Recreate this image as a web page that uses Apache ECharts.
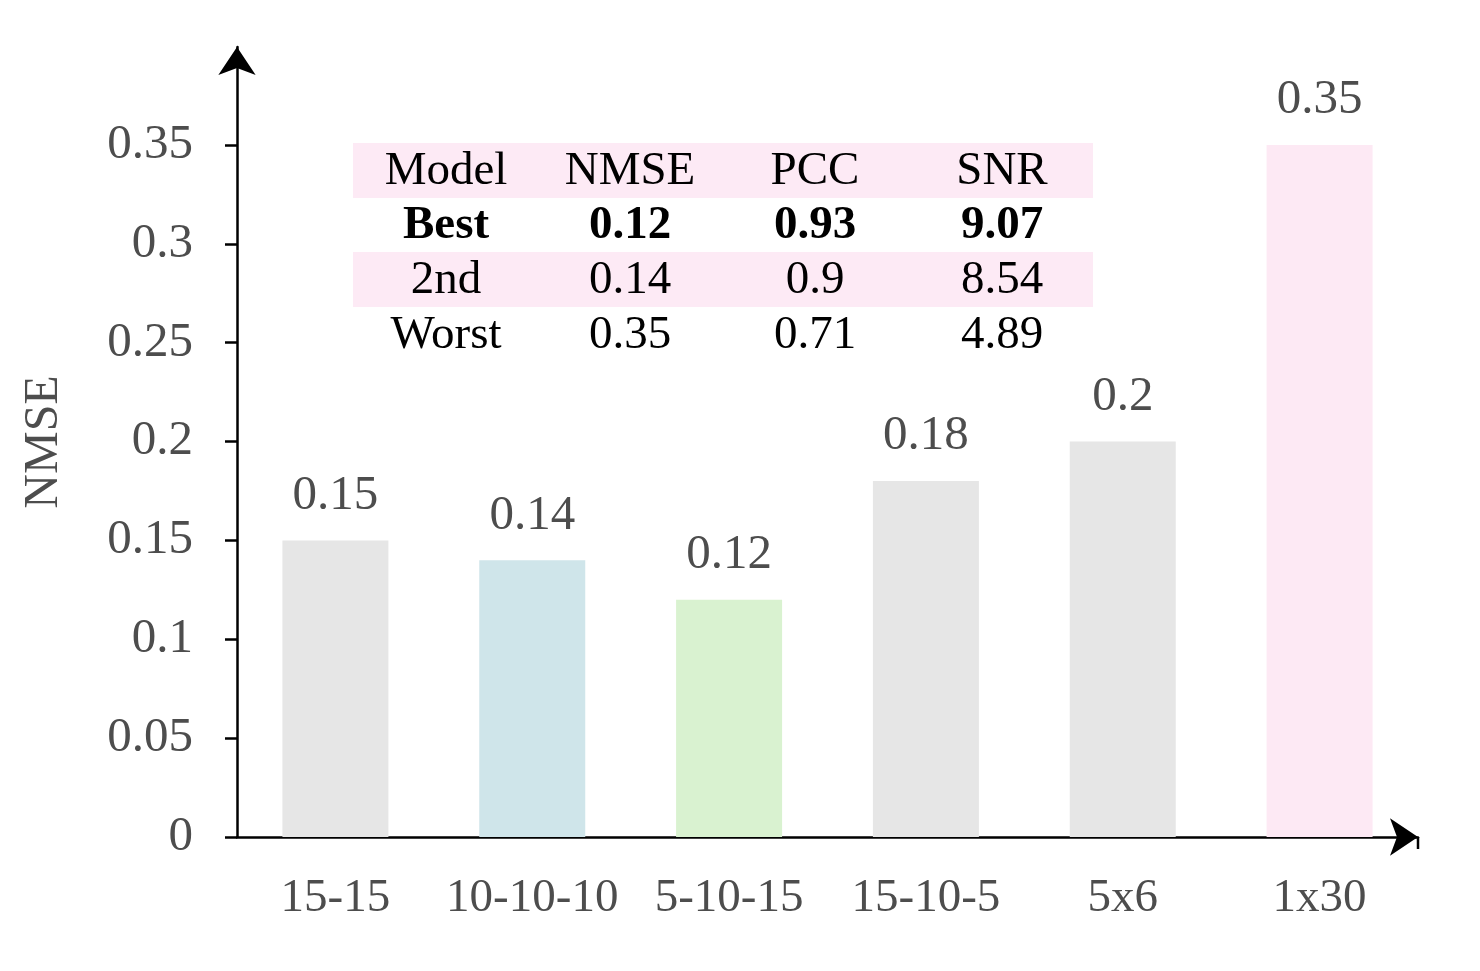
<!DOCTYPE html>
<html>
<head>
<meta charset="utf-8">
<script src="https://cdn.jsdelivr.net/npm/echarts@6/dist/echarts.min.js"></script>
<style>
  html, body { margin: 0; padding: 0; background: #fff; }
  #main { width: 1480px; height: 971px; }
</style>
</head>
<body>
<div id="main"></div>
<script>
var categories = ['15-15', '10-10-10', '5-10-15', '15-10-5', '5x6', '1x30'];
var nmse = [0.15, 0.14, 0.12, 0.18, 0.2, 0.35];
var barColors = ['#e6e6e6', '#cfe5ea', '#d9f2d0', '#e6e6e6', '#e6e6e6', '#fde9f4'];
var yTicks = [0, 0.05, 0.1, 0.15, 0.2, 0.25, 0.3, 0.35];

// inset table
var tableHeader = ['Model', 'NMSE', 'PCC', 'SNR'];
var tableRows = [
  ['Best', '0.12', '0.93', '9.07'],
  ['2nd', '0.14', '0.9', '8.54'],
  ['Worst', '0.35', '0.71', '4.89']
];

var font = '"Liberation Serif", "Times New Roman", serif';
var grey = '#4d4d4d';

// table graphic
var colX = [446, 630, 815, 1002];
var rowY = [172, 226, 281, 336];
var allRows = [tableHeader].concat(tableRows);
var graphics = [];
allRows.forEach(function (row, r) {
  if (r % 2 === 0) {
    graphics.push({
      type: 'rect', left: 353, top: rowY[r] - 29, z: 0,
      shape: { width: 740, height: 55 },
      style: { fill: '#fdeaf5' }
    });
  }
  row.forEach(function (txt, c) {
    graphics.push({
      type: 'text', x: colX[c], y: rowY[r], z: 10,
      style: {
        text: txt, fill: '#000', align: 'center', verticalAlign: 'middle',
        fontFamily: font, fontSize: 47, fontWeight: r === 1 ? 'bold' : 'normal'
      }
    });
  });
});
// end tick of the x axis
graphics.push({
  type: 'line', z: 20,
  shape: { x1: 1418, y1: 837, x2: 1418, y2: 849 },
  style: { stroke: '#000', lineWidth: 2.5 }
});

var chart = echarts.init(document.getElementById('main'));
chart.setOption({
  backgroundColor: '#fff',
  animation: false,
  grid: { left: 237, right: 62, top: 47, bottom: 134, outerBoundsMode: 'none', containLabel: false },
  graphic: graphics,
  xAxis: {
    type: 'category',
    data: categories,
    axisLine: {
      lineStyle: { color: '#000', width: 2.5 },
      symbol: ['none', 'arrow'], symbolSize: [28, 28]
    },
    axisTick: { alignWithLabel: true, length: 12, lineStyle: { color: '#000', width: 2.5 } },
    axisLabel: { interval: 0, color: grey, fontFamily: font, fontSize: 47, margin: 38 }
  },
  yAxis: {
    type: 'value',
    min: 0, max: 0.3995,
    name: 'NMSE',
    nameLocation: 'middle',
    nameGap: 169,
    nameTextStyle: { color: grey, fontFamily: font, fontSize: 48 },
    splitLine: { show: false },
    axisLine: {
      show: true,
      lineStyle: { color: '#000', width: 2.5 },
      symbol: ['none', 'arrow'], symbolSize: [28, 28]
    },
    axisTick: { show: true, length: 12, customValues: yTicks, lineStyle: { color: '#000', width: 2.5 } },
    axisLabel: {
      color: grey, fontFamily: font, fontSize: 49, margin: 44,
      customValues: yTicks,
      formatter: function (v) { return String(+v.toFixed(2)); }
    }
  },
  series: [{
    type: 'bar',
    data: nmse.map(function (v, i) { return { value: v, itemStyle: { color: barColors[i] } }; }),
    barWidth: 106,
    label: {
      show: true, position: 'top', distance: 20,
      color: grey, fontFamily: font, fontSize: 49
    }
  }]
});
</script>
</body>
</html>
